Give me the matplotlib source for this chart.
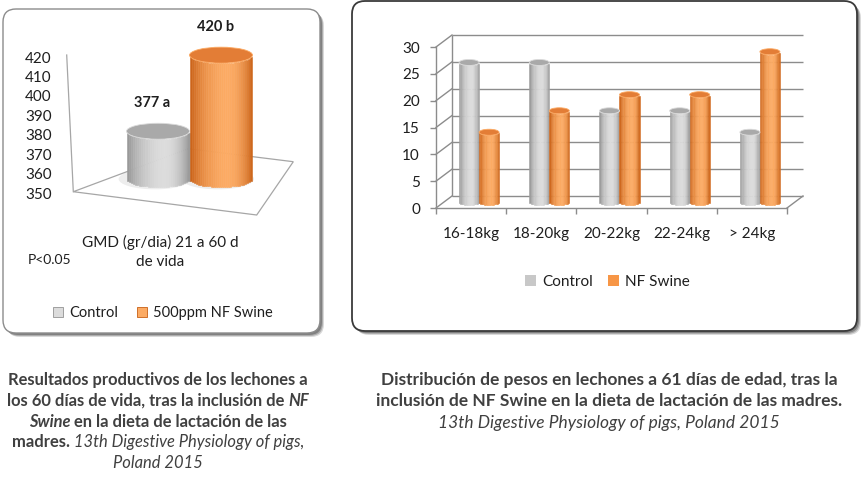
import numpy as np
import matplotlib
matplotlib.use('Agg')
import matplotlib.pyplot as plt
from matplotlib.patches import Ellipse, FancyBboxPatch, Patch, Polygon
from matplotlib.colors import to_rgb

# Left chart: GMD 21-60 d
gmd_groups = ['Control', '500ppm NF Swine']
gmd_values = [377, 420]
gmd_labels = ['377 a', '420 b']
gmd_category = 'GMD (gr/dia) 21 a 60 d\nde vida'
gmd_ticks = [350, 360, 370, 380, 390, 400, 410, 420]
gmd_base = 350

# Right chart: weight distribution at 61 d
weight_classes = ['16-18kg', '18-20kg', '20-22kg', '22-24kg', '> 24kg']
control_pct = [26, 26, 17, 17, 13]
nfswine_pct = [13, 17, 20, 20, 28]
pct_ticks = [0, 5, 10, 15, 20, 25, 30]
weight_series = ['Control', 'NF Swine']

left_caption = [
    [('Resultados productivos de los lechones a', 'bold', 'normal')],
    [('los 60 días de vida, tras la inclusión de ', 'bold', 'normal'), ('NF', 'bold', 'italic')],
    [('Swine', 'bold', 'italic'), (' en la dieta de lactación de las', 'bold', 'normal')],
    [('madres.', 'bold', 'normal'), (' 13th Digestive Physiology of pigs,', 'normal', 'italic')],
    [('Poland 2015', 'normal', 'italic')],
]
right_caption = [
    [('Distribución de pesos en lechones a 61 días de edad, tras la', 'bold', 'normal')],
    [('inclusión de NF Swine en la dieta de lactación de las madres.', 'bold', 'normal')],
    [('13th Digestive Physiology of pigs, Poland 2015', 'normal', 'italic')],
]

W, H = 862, 478
FONT = 'Lato'
TXT = '#1e1e1e'
CAP = '#404040'
GRID = '#8c8c8c'
GRAY = {'edge': '#939393', 'hi': '#dcdcdc', 'top': '#a9a9a9'}
ORANGE = {'edge': '#c85f14', 'hi': '#fcab64', 'top': '#e37d36'}
CHART_FS = 11

plt.rcParams['font.family'] = [FONT, 'DejaVu Sans']


def shade(col, u):
    # brightness profile across a cylinder, highlight a bit right of centre
    s = (0.6 - u) / 0.6 if u < 0.6 else (u - 0.6) / 0.4
    t = np.cos(min(s, 1) * np.pi / 2) ** 0.8
    e, h = np.array(to_rgb(col['edge'])), np.array(to_rgb(col['hi']))
    return tuple(e + (h - e) * t)


def cylinder(ax, xc, width, base, value, ell_h, col, n=30, z=3):
    us = (np.arange(n) + 0.5) / n
    xs = xc - width / 2 + us * width
    curve = ell_h / 2 * np.sqrt(1 - (2 * us - 1) ** 2)
    colors = [shade(col, u) for u in us]
    ax.bar(xs, value - base, width=width / n, bottom=base - curve, color=colors,
           edgecolor=colors, linewidth=0.4, zorder=z, clip_on=False)
    ax.add_patch(Ellipse((xc, value), width, ell_h, facecolor=col['top'],
                         edgecolor=shade(col, 0.55), linewidth=0.6, zorder=z + 0.1, clip_on=False))


def rich_line(ax, xc, y, parts, size):
    r = fig.canvas.get_renderer()
    texts = [ax.text(0, y, s, fontsize=size, fontweight=wt, fontstyle=st, color=CAP,
                     va='center', ha='left') for s, wt, st in parts]
    widths = [t.get_window_extent(r).width for t in texts]
    x = xc - sum(widths) / 2
    for t, w in zip(texts, widths):
        t.set_x(x)
        x += w


fig = plt.figure(figsize=(W / 100, H / 100), dpi=100)
fig.patch.set_facecolor('white')

# background layer in pixel coordinates: boxes, frames, captions
bg = fig.add_axes([0, 0, 1, 1])
bg.set_xlim(0, W)
bg.set_ylim(H, 0)
bg.axis('off')
bg.set_zorder(0)

for (x0, y0, x1, y1, ec, lw) in [(3, 9, 320, 333, '#8c8c8c', 1.0), (352, 1, 857, 331, '#3a3a3a', 1.3)]:
    for k, a in [(4, 0.15), (3, 0.2), (2, 0.25)]:
        bg.add_patch(FancyBboxPatch((x0 + k, y0 + k), x1 - x0, y1 - y0,
                                    boxstyle='round,pad=0,rounding_size=13',
                                    facecolor='#000000', edgecolor='none', alpha=a))
    bg.add_patch(FancyBboxPatch((x0, y0), x1 - x0, y1 - y0, boxstyle='round,pad=0,rounding_size=13',
                                facecolor='white', edgecolor=ec, linewidth=lw))

# left chart frame (3D wall and floor)
bg.plot([66.7, 73.3], [55, 191.7], color='#a6a6a6', lw=0.9)
bg.add_patch(Polygon([(73.3, 191.7), (256.7, 215), (293.3, 161.7), (188.3, 148.7)],
                     closed=True, facecolor='none', edgecolor='#a6a6a6', lw=0.9))
bg.text(160, 252, gmd_category, ha='center', va='center', fontsize=CHART_FS, color=TXT, linespacing=1.4)
bg.text(50, 260, 'P<0.05', ha='center', va='center', fontsize=10, color=TXT)

for i, parts in enumerate(left_caption):
    rich_line(bg, 158, 380 + i * 20.8, parts, 11.9)
for i, parts in enumerate(right_caption):
    rich_line(bg, 609, 380 + i * 21.5, parts, 12.5)

# ---- left chart cylinders ----
axl = fig.add_axes([63 / W, 1 - 215 / H, 237 / W, 165 / H])
axl.set_zorder(1)
axl.set_xlim(-1.508, 2.254)
axl.set_ylim(329.66, 422.9)
axl.axis('off')
pos = np.arange(len(gmd_values))
ell = 9.0
for x, v, col in zip(pos, gmd_values, [GRAY, ORANGE]):
    axl.add_patch(Ellipse((x - 0.05, gmd_base), 1.15, ell * 1.3, facecolor='#000000',
                          alpha=0.07, edgecolor='none', zorder=2))
    cylinder(axl, x, 1.0, gmd_base, v, ell, col)
for x, v, lab in zip(pos, gmd_values, gmd_labels):
    axl.annotate(lab, (x, v), xytext=(-4, 20), textcoords='offset points', ha='center',
                 va='center', fontsize=10.5, fontweight='bold', color=TXT)

axly = fig.add_axes([60 / W, 1 - 193 / H, 1 / W, 136 / H])
axly.set_zorder(1)
axly.set_ylim(gmd_ticks[0], gmd_ticks[-1])
axly.set_yticks(gmd_ticks)
axly.set_xticks([])
for s in axly.spines.values():
    s.set_visible(False)
axly.patch.set_visible(False)
axly.tick_params(axis='y', length=0, pad=6, labelsize=CHART_FS, labelcolor=TXT)

fig.legend(handles=[Patch(facecolor=shade(GRAY, 0.6), edgecolor=GRAY['edge'], lw=0.6),
                    Patch(facecolor=ORANGE['hi'], edgecolor=ORANGE['edge'], lw=0.6)],
           labels=gmd_groups, loc='center', bbox_to_anchor=(163 / W, 1 - 313 / H), ncol=2,
           frameon=False, fontsize=10.5, labelcolor=TXT, handlelength=0.7, handleheight=0.7,
           handletextpad=0.4, columnspacing=1.3)

# ---- right chart ----
axr = fig.add_axes([436 / W, 1 - 208 / H, 351 / W, 161 / H])
axr.set_zorder(1)
axr.patch.set_visible(False)
n = len(weight_classes)
axr.set_xlim(-0.5, n - 0.5)
axr.set_ylim(pct_ticks[0], pct_ticks[-1])
dx = 16 / 351 * n
dy = 12 / 161 * (pct_ticks[-1] - pct_ticks[0])

for s in ['top', 'right']:
    axr.spines[s].set_visible(False)
for s in ['left', 'bottom']:
    axr.spines[s].set_color(GRID)
    axr.spines[s].set_linewidth(1)
axr.set_yticks(pct_ticks)
axr.tick_params(axis='y', length=4.5, color=GRID, width=1, pad=7, labelsize=CHART_FS, labelcolor=TXT)
axr.set_xticks(np.arange(-0.5, n, 1))
axr.set_xticklabels([])
axr.tick_params(axis='x', which='major', length=4.5, color=GRID, width=1)
axr.set_xticks(np.arange(n), minor=True)
axr.set_xticklabels(weight_classes, minor=True)
axr.tick_params(axis='x', which='minor', length=0, pad=14, labelsize=CHART_FS, labelcolor=TXT)

# back wall gridlines and side wall edges
x0, x1 = -0.5, n - 0.5
axr.hlines([t + dy for t in pct_ticks], x0 + dx, x1 + dx, color=GRID, lw=1, zorder=1, clip_on=False)
axr.vlines(x0 + dx, dy, pct_ticks[-1] + dy, color=GRID, lw=1, zorder=1, clip_on=False)
for t in pct_ticks:
    axr.plot([x0, x0 + dx], [t, t + dy], color=GRID, lw=1, zorder=1, clip_on=False)
axr.plot([x1, x1 + dx], [0, dy], color=GRID, lw=1, zorder=1, clip_on=False)

bw = 0.285
e_h = 6 / 161 * pct_ticks[-1]
for i in range(n):
    cylinder(axr, i - bw / 2 + dx / 2, bw, dy / 2, control_pct[i] + dy / 2, e_h, GRAY, n=16)
    cylinder(axr, i + bw / 2 + dx / 2, bw, dy / 2, nfswine_pct[i] + dy / 2, e_h, ORANGE, n=16)

fig.legend(handles=[Patch(facecolor='#c8c8c8', edgecolor='none'),
                    Patch(facecolor='#f79646', edgecolor='none')],
           labels=weight_series, loc='center', bbox_to_anchor=(607.5 / W, 1 - 282 / H), ncol=2,
           frameon=False, fontsize=CHART_FS, labelcolor=TXT, handlelength=0.7, handleheight=0.7,
           handletextpad=0.4, columnspacing=1.0)

fig.savefig('out.png', dpi=100)
